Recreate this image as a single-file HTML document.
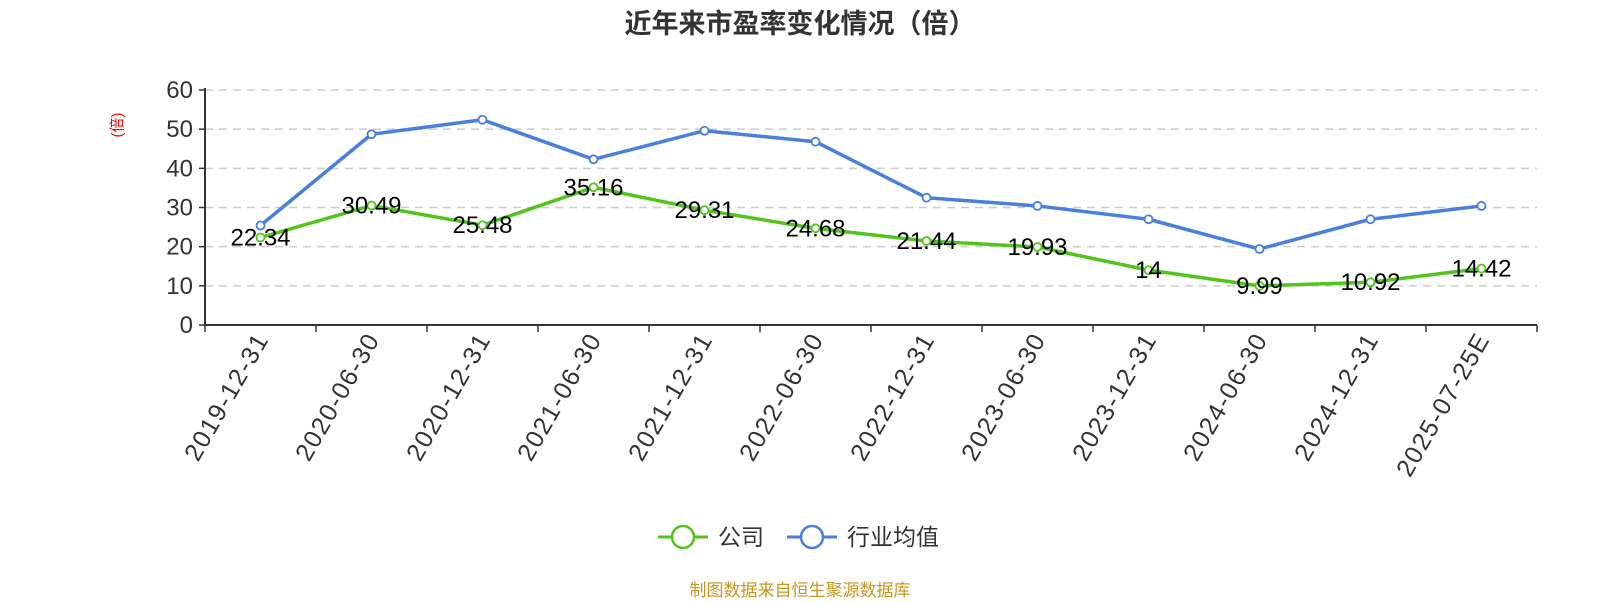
<!DOCTYPE html>
<html><head><meta charset="utf-8"><style>
body{margin:0;background:#fff;}
svg text{font-family:"Liberation Sans","Noto Sans CJK SC",sans-serif;}
</style></head><body>
<svg width="1600" height="600" xmlns="http://www.w3.org/2000/svg">
<text x="800" y="33" text-anchor="middle" font-size="27" font-weight="bold" fill="#333">近年来市盈率变化情况（倍）</text>
<text transform="translate(122,125) rotate(-90)" text-anchor="middle" font-size="15" fill="#f00">(倍)</text>
<g id="grid"></g><g id="axes"></g><g id="series"></g>
<g>
<g><line x1="658" y1="537" x2="708" y2="537" stroke="#52c41a" stroke-width="3"/><circle cx="683" cy="537" r="11" fill="#fff" stroke="#52c41a" stroke-width="2.5"/><text x="718" y="545" font-size="23" fill="#333">公司</text></g>
<g><line x1="787" y1="537" x2="837" y2="537" stroke="#4a7ee0" stroke-width="3"/><circle cx="812" cy="537" r="11" fill="#fff" stroke="#4a7ee0" stroke-width="2.5"/><text x="847" y="545" font-size="23" fill="#333">行业均值</text></g>
</g>
<text x="800" y="596" text-anchor="middle" font-size="17" fill="#c8961e">制图数据来自恒生聚源数据库</text>
</svg>
<script>
const categories=["2019-12-31","2020-06-30","2020-12-31","2021-06-30","2021-12-31","2022-06-30","2022-12-31","2023-06-30","2023-12-31","2024-06-30","2024-12-31","2025-07-25E"];
const companyValues=[22.34,30.49,25.48,35.16,29.31,24.68,21.44,19.93,14,9.99,10.92,14.42];
const industryValues=[25.4,48.7,52.4,42.3,49.6,46.8,32.5,30.4,27,19.4,27,30.4];
const yTicks=[0,10,20,30,40,50,60];
const NS="http://www.w3.org/2000/svg";
const x0=205,x1=1537,y0=325,y60=90;
const band=(x1-x0)/categories.length;
const xs=i=>x0+band*(i+0.5);
const ys=v=>y0-(v/60)*(y0-y60);
function mk(tag,attrs,parent){const e=document.createElementNS(NS,tag);for(const k in attrs)e.setAttribute(k,attrs[k]);parent.appendChild(e);return e;}
const grid=document.getElementById('grid'),axes=document.getElementById('axes'),series=document.getElementById('series');
yTicks.forEach(t=>{
 if(t>0){const g=mk('line',{x1:x0,x2:x1,y1:ys(t),y2:ys(t),stroke:'#ccc','stroke-width':1.5,'stroke-dasharray':'8,6'},grid);
 
 }
 const tk=mk('line',{x1:x0-6,x2:x0,y1:ys(t),y2:ys(t),stroke:'#333','stroke-width':1.5},axes);
 
 
 const l=mk('text',{x:x0-12,y:ys(t)+8,'text-anchor':'end','font-size':24,fill:'#333'},axes);
 l.textContent=t;
 
 
});
const ya=mk('line',{x1:x0,x2:x0,y1:y60-2,y2:y0,stroke:'#333','stroke-width':2},axes);


const xa=mk('line',{x1:x0,x2:x1,y1:y0,y2:y0,stroke:'#333','stroke-width':2},axes);


for(let i=0;i<=categories.length;i++){
 const t=mk('line',{x1:x0+band*i,x2:x0+band*i,y1:y0,y2:y0+7,stroke:'#333','stroke-width':1.5},axes);
 
 
}
categories.forEach((c,i)=>{
 const x=xs(i)+9,y=y0+14;
 const l=mk('text',{x:x,y:y,'text-anchor':'end','font-size':25,'letter-spacing':1.5,fill:'#333',transform:`rotate(-60 ${x} ${y})`},axes);
 l.textContent=c;
 
 
});
function drawSeries(vals,color,name,labels){
 const p=mk('polyline',{points:vals.map((v,i)=>xs(i)+','+ys(v)).join(' '),fill:'none',stroke:color,'stroke-width':3.5,'stroke-linejoin':'round'},series);
 
 
 vals.forEach((v,i)=>{
  const c=mk('circle',{cx:xs(i),cy:ys(v),r:4,fill:'#fff',stroke:color,'stroke-width':1.8},series);
  
  
  if(labels){
   const t=mk('text',{x:xs(i),y:ys(v)+8,'text-anchor':'middle','font-size':24,fill:'#000'},series);
   t.textContent=v;
   
   
  }
 });
}
drawSeries(industryValues,'#4a7ee0','industry',false);
drawSeries(companyValues,'#52c41a','company',true);
</script>
</body></html>
